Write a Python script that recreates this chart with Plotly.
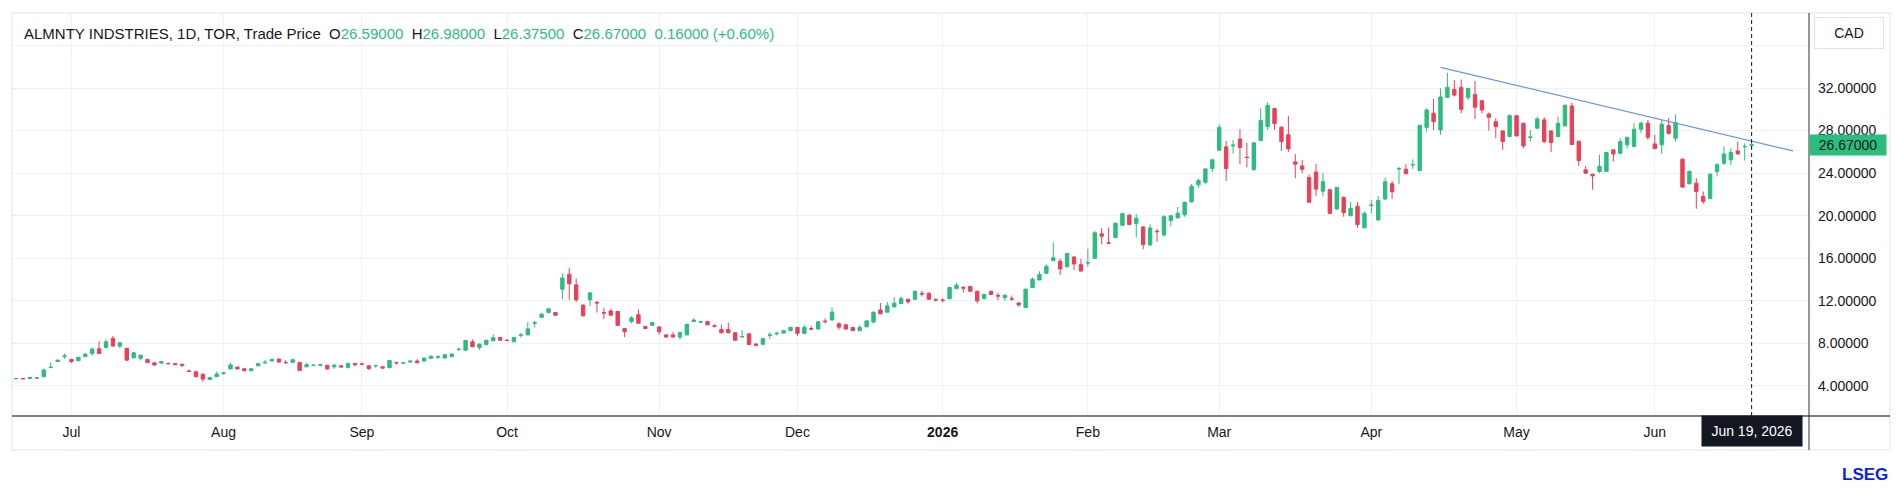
import pandas as pd
import plotly.graph_objects as go

# TSX holidays in the window (no trading, no bar on the axis)
holidays = ["2025-07-01", "2025-08-04", "2025-09-01", "2025-10-13", "2025-12-25",
            "2025-12-26", "2026-01-01", "2026-02-16", "2026-04-03", "2026-05-18",
            "2026-07-01"]

opens = [
    4.68, 4.70, 4.70, 4.72, 4.87, 5.72, 6.30, 6.78, 6.50, 6.37,
    6.75, 7.06, 7.50, 7.62, 8.47, 7.75, 7.53, 6.65, 6.60, 6.50,
    6.18, 6.15, 6.12, 6.10, 6.05, 5.42, 5.34, 5.10, 4.62, 4.87,
    5.18, 5.60, 5.78, 5.62, 5.43, 5.90, 6.18, 6.35, 6.53, 6.22,
    6.22, 6.20, 5.80, 5.94, 5.95, 5.95, 5.80, 5.90, 5.72, 6.12,
    6.07, 5.90, 5.90, 5.80, 5.72, 6.20, 6.15, 6.25, 6.34, 6.34,
    6.60, 6.70, 6.62, 6.75, 7.43, 7.37, 8.15, 7.62, 7.90, 8.25,
    8.56, 8.30, 8.15, 8.76, 8.80, 9.90, 10.45, 10.90, 10.90, 13.10,
    14.50, 13.50, 11.60, 12.10, 11.85, 10.90, 11.05, 11.00, 9.40, 10.05,
    10.70, 9.60, 9.70, 9.55, 8.80, 8.80, 8.60, 8.80, 10.05, 10.00,
    10.05, 9.65, 9.30, 9.30, 9.00, 8.60, 8.90, 7.95, 7.92, 8.75,
    8.90, 8.97, 9.20, 9.50, 8.95, 9.40, 9.35, 10.10, 10.20, 9.85,
    9.75, 9.50, 9.20, 9.56, 10.00, 11.15, 10.94, 11.43, 11.75, 12.15,
    12.15, 12.70, 12.72, 12.10, 12.07, 12.20, 13.15, 13.25, 13.35, 12.90,
    12.20, 12.90, 12.50, 12.30, 12.20, 11.80, 11.38, 13.25, 13.97, 14.60,
    15.80, 15.72, 15.20, 16.12, 15.40, 15.55, 16.00, 18.30, 17.45, 17.95,
    19.10, 20.05, 19.26, 18.95, 17.25, 18.55, 18.20, 19.55, 19.80, 20.10,
    21.30, 22.90, 23.15, 24.43, 26.15, 26.47, 26.55, 27.20, 25.50, 24.34,
    27.07, 28.38, 30.07, 28.32, 27.60, 25.06, 24.68, 23.59, 24.10, 22.30,
    22.45, 20.63, 21.72, 20.00, 20.90, 18.87, 20.95, 19.60, 21.57, 23.00,
    24.40, 24.37, 24.78, 24.25, 28.30, 29.63, 28.06, 31.12, 31.87, 32.06,
    31.12, 31.40, 30.80, 29.56, 28.84, 27.97, 27.44, 29.40, 28.69, 27.35,
    28.22, 29.00, 27.97, 27.44, 28.44, 30.31, 27.00, 24.31, 23.90, 24.16,
    24.16, 26.19, 25.87, 26.66, 26.50, 28.12, 28.69, 26.75, 26.66, 28.47,
    27.28, 25.31, 23.00, 23.06, 21.81, 21.60, 24.16, 24.94, 25.25, 26.09,
    26.48, 26.59,
]
highs = [
    4.72, 4.72, 4.85, 4.78, 5.65, 6.20, 6.48, 7.05, 6.55, 6.72,
    7.05, 7.60, 8.20, 8.40, 8.70, 8.15, 7.58, 7.20, 6.95, 6.55,
    6.22, 6.35, 6.20, 6.13, 6.08, 5.55, 5.38, 5.20, 4.84, 5.35,
    5.32, 6.20, 5.82, 5.65, 5.65, 6.15, 6.45, 6.55, 6.58, 6.42,
    6.52, 6.22, 6.18, 5.98, 6.05, 5.98, 6.00, 5.93, 6.15, 6.15,
    6.20, 5.93, 5.98, 5.83, 6.45, 6.28, 6.25, 6.36, 6.52, 6.65,
    6.85, 6.88, 6.97, 7.05, 7.58, 8.32, 8.37, 7.97, 8.33, 8.85,
    8.60, 8.38, 8.60, 9.00, 10.00, 10.10, 10.85, 11.30, 10.95, 14.60,
    15.10, 14.10, 11.65, 12.80, 12.00, 11.35, 11.25, 11.05, 9.45, 10.55,
    11.20, 9.65, 10.02, 9.60, 8.85, 9.05, 9.05, 9.85, 10.35, 10.12,
    10.10, 9.80, 9.75, 9.95, 9.05, 9.25, 8.95, 8.00, 8.50, 9.05,
    9.10, 9.25, 9.55, 9.55, 9.75, 9.62, 10.10, 10.35, 11.40, 9.98,
    9.80, 9.55, 9.70, 10.15, 10.98, 11.80, 11.90, 12.35, 12.40, 12.20,
    12.95, 12.95, 12.78, 12.25, 12.25, 13.30, 13.70, 13.38, 13.40, 12.95,
    12.65, 12.95, 12.75, 12.60, 12.50, 11.85, 13.15, 14.20, 14.78, 15.43,
    17.50, 15.97, 16.50, 16.20, 15.95, 16.90, 18.55, 18.85, 18.90, 19.35,
    20.25, 20.17, 20.17, 19.00, 19.20, 18.75, 20.05, 20.05, 20.83, 21.30,
    23.00, 23.50, 24.45, 25.34, 28.60, 27.03, 27.10, 28.13, 26.85, 26.90,
    30.10, 30.67, 30.15, 28.40, 29.38, 25.80, 25.25, 23.87, 24.86, 24.04,
    22.50, 22.70, 21.80, 21.30, 21.30, 20.38, 21.47, 21.85, 23.60, 23.26,
    24.60, 24.84, 25.30, 28.55, 30.10, 30.97, 31.97, 33.44, 32.75, 32.80,
    32.00, 32.66, 30.85, 29.70, 29.15, 28.00, 29.53, 29.47, 28.72, 28.06,
    29.30, 29.25, 28.00, 29.31, 30.47, 30.62, 27.05, 24.69, 23.95, 25.72,
    26.00, 26.25, 27.28, 27.40, 28.69, 28.84, 29.00, 27.60, 29.00, 29.16,
    29.53, 25.40, 24.25, 23.53, 22.28, 24.00, 24.94, 26.50, 26.34, 26.97,
    26.81, 26.98,
]
lows = [
    4.66, 4.66, 4.68, 4.70, 4.85, 5.70, 6.26, 6.55, 6.15, 6.35,
    6.72, 6.85, 7.02, 7.55, 7.72, 7.55, 6.40, 6.60, 6.40, 6.18,
    5.95, 6.12, 6.00, 5.97, 5.78, 5.35, 4.85, 4.40, 4.60, 4.85,
    5.05, 5.58, 5.58, 5.40, 5.40, 5.88, 6.05, 6.33, 6.20, 6.05,
    6.20, 5.40, 5.78, 5.92, 5.85, 5.55, 5.62, 5.75, 5.70, 5.88,
    5.95, 5.50, 5.70, 5.65, 5.70, 6.00, 6.05, 6.22, 6.15, 6.32,
    6.58, 6.55, 6.60, 6.72, 7.30, 7.35, 7.65, 7.38, 7.88, 8.22,
    8.28, 8.22, 8.12, 8.55, 8.78, 9.50, 10.40, 10.85, 10.60, 12.15,
    12.10, 11.90, 10.50, 11.50, 10.90, 10.30, 10.60, 9.65, 8.60, 9.90,
    9.85, 9.35, 9.65, 8.80, 8.55, 8.55, 8.35, 8.78, 10.00, 9.92,
    9.70, 9.50, 8.95, 8.95, 8.25, 8.55, 7.85, 7.72, 7.88, 8.42,
    8.75, 8.93, 9.15, 8.70, 8.90, 9.25, 9.30, 9.85, 10.15, 9.28,
    9.30, 9.15, 9.15, 9.52, 9.95, 10.75, 10.90, 11.40, 11.72, 11.75,
    12.10, 12.40, 12.12, 11.95, 11.85, 12.15, 13.10, 12.80, 12.88, 11.75,
    12.15, 12.55, 12.05, 11.98, 12.00, 11.45, 11.35, 13.20, 13.92, 14.55,
    15.75, 14.44, 15.15, 14.90, 14.75, 15.20, 15.95, 17.30, 17.40, 17.90,
    19.05, 19.12, 17.95, 16.85, 17.20, 17.55, 18.05, 19.00, 19.75, 19.90,
    21.25, 22.60, 23.00, 24.10, 26.10, 23.27, 25.85, 24.84, 24.55, 24.20,
    27.00, 28.07, 28.07, 26.10, 26.00, 23.52, 23.99, 21.20, 21.88, 21.80,
    20.15, 20.55, 19.90, 19.95, 18.87, 18.80, 20.22, 19.55, 21.50, 21.57,
    22.95, 23.90, 24.40, 24.20, 27.90, 28.06, 27.60, 31.05, 31.20, 29.63,
    30.87, 29.10, 29.63, 28.00, 27.28, 26.19, 27.40, 27.45, 26.34, 26.97,
    28.15, 26.81, 25.97, 27.40, 28.40, 26.65, 24.69, 23.94, 22.44, 24.00,
    24.10, 25.09, 25.80, 26.34, 26.45, 27.75, 27.12, 26.25, 25.81, 27.60,
    26.97, 22.65, 22.95, 20.66, 21.12, 21.55, 23.69, 24.78, 24.78, 25.75,
    25.19, 26.375,
]
closes = [
    4.70, 4.68, 4.80, 4.76, 5.50, 5.76, 6.43, 6.82, 6.30, 6.70,
    7.00, 7.47, 7.06, 8.15, 7.75, 8.06, 6.43, 7.12, 6.90, 6.20,
    5.97, 6.30, 6.10, 6.00, 5.95, 5.37, 4.87, 4.65, 4.80, 5.12,
    5.22, 5.97, 5.60, 5.43, 5.62, 6.10, 6.22, 6.50, 6.25, 6.20,
    6.47, 5.45, 6.00, 5.96, 6.00, 5.60, 5.97, 5.78, 6.12, 6.00,
    6.05, 5.65, 5.92, 5.68, 6.40, 6.18, 6.17, 6.34, 6.18, 6.62,
    6.80, 6.75, 6.94, 7.00, 7.45, 8.28, 7.68, 7.94, 8.30, 8.53,
    8.30, 8.28, 8.56, 8.80, 9.37, 9.95, 10.75, 11.25, 10.65, 14.15,
    13.60, 12.10, 10.60, 12.75, 11.80, 10.85, 10.65, 9.70, 9.10, 10.40,
    9.90, 9.40, 9.97, 9.10, 8.60, 8.60, 9.03, 9.80, 10.20, 10.05,
    9.75, 9.60, 9.00, 9.00, 8.30, 8.65, 7.90, 7.82, 8.45, 8.80,
    8.95, 9.20, 9.50, 8.95, 9.50, 9.35, 10.03, 10.05, 10.94, 9.53,
    9.35, 9.20, 9.50, 10.12, 10.94, 10.78, 11.53, 11.78, 12.20, 11.90,
    12.90, 12.65, 12.15, 12.08, 12.05, 13.25, 13.47, 13.20, 12.90, 12.00,
    12.60, 12.60, 12.45, 12.53, 12.17, 11.62, 13.10, 14.03, 14.47, 15.25,
    16.06, 15.00, 16.45, 15.47, 14.80, 15.60, 18.40, 18.07, 17.42, 19.30,
    20.20, 19.17, 19.76, 17.30, 18.85, 18.50, 19.90, 20.00, 20.23, 21.27,
    22.77, 23.30, 24.40, 25.25, 28.30, 24.43, 26.63, 26.40, 25.47, 26.85,
    28.95, 30.36, 28.66, 26.97, 26.28, 24.84, 24.37, 21.27, 22.50, 23.20,
    20.22, 22.66, 20.28, 20.70, 19.18, 20.22, 21.00, 21.44, 23.20, 22.26,
    24.42, 23.94, 24.80, 28.50, 29.94, 28.84, 31.16, 32.06, 31.34, 30.00,
    31.97, 30.19, 29.94, 29.25, 28.37, 26.97, 29.40, 27.50, 26.56, 27.40,
    29.10, 26.97, 26.88, 28.69, 30.37, 26.69, 25.19, 24.00, 23.75, 24.62,
    25.94, 25.81, 26.97, 27.37, 28.12, 28.69, 27.37, 26.31, 28.60, 27.75,
    28.75, 22.69, 24.16, 22.28, 21.34, 23.90, 24.78, 25.81, 25.94, 25.81,
    26.51, 26.67,
]

month_labels = ["Jul", "Aug", "Sep", "Oct", "Nov", "Dec", "<b>2026</b>",
                "Feb", "Mar", "Apr", "May", "Jun"]
price_ticks = [4, 8, 12, 16, 20, 24, 28, 32, 36]

# user-drawn trend line (date, price)
trend_dates = ["2026-04-16", "2026-06-29"]
trend_values = [33.94, 26.09]

GREEN = "#2bbd7e"
RED = "#e84057"
GRID = "#f0f1f4"
TEXT = "#131722"

# trading days, with a few empty future sessions on the right
days = pd.bdate_range("2025-06-19", "2026-07-06")
dates = [d.strftime("%Y-%m-%d") for d in days if d.strftime("%Y-%m-%d") not in holidays]
data_dates = dates[:len(closes)]
last_date = data_dates[-1]

month_ticks = []
seen = set()
for d in data_dates:
    m = d[:7]
    if m not in seen:
        seen.add(m)
        month_ticks.append(d)
month_ticks = month_ticks[1:]  # first label is July

fig = go.Figure()
fig.add_trace(go.Candlestick(
    x=data_dates, open=opens, high=highs, low=lows, close=closes,
    increasing=dict(line=dict(color=GREEN, width=1), fillcolor=GREEN),
    decreasing=dict(line=dict(color=RED, width=1), fillcolor=RED),
    whiskerwidth=0, name="ALMNTY INDSTRIES", showlegend=False,
))
fig.add_trace(go.Scatter(
    x=trend_dates, y=trend_values, mode="lines",
    line=dict(color="#6d93f2", width=1.2), hoverinfo="skip", showlegend=False,
))

# plot box: 12..1809 px wide, 13..416 px high
W, H = 1903, 488
L, R, T, B = 12, 94, 13, 72
pw, ph = W - L - R, H - T - B


def px(x):
    return (x - L) / pw


def py(y):
    return (H - B - y) / ph


fig.update_layout(
    width=W, height=H,
    margin=dict(l=L, r=R, t=T, b=B),
    paper_bgcolor="white", plot_bgcolor="white",
    font=dict(family="Liberation Sans, Arial, sans-serif", size=14, color=TEXT),
    showlegend=False,
    hovermode="x",
)
fig.update_xaxes(
    type="category", categoryorder="array", categoryarray=dates,
    range=[-0.6, 259.3],
    tickmode="array", tickvals=month_ticks, ticktext=month_labels,
    showgrid=True, gridcolor=GRID, gridwidth=1,
    ticks="", showline=False, zeroline=False,
    rangeslider=dict(visible=False),
    ticklabelstandoff=6,
)
fig.update_yaxes(
    side="right", range=[1.18, 39.05],
    tickmode="array", tickvals=price_ticks,
    ticktext=[f"{v:.5f}" if v < 36 else "" for v in price_ticks],
    showgrid=True, gridcolor=GRID, gridwidth=1,
    ticks="", showline=False, zeroline=False,
    ticklabelstandoff=8,
)

fig.add_shape(type="rect", xref="paper", yref="paper",
              x0=0, x1=px(1890), y0=py(450), y1=1,
              line=dict(color="#e0e3eb", width=1))
fig.add_shape(type="line", xref="paper", yref="paper",
              x0=0, x1=px(1890), y0=0, y1=0,
              line=dict(color="#7b7e86", width=2))
fig.add_shape(type="line", xref="paper", yref="paper",
              x0=1, x1=1, y0=py(450), y1=1,
              line=dict(color="#2a2e39", width=1))
fig.add_shape(type="line", xref="x", yref="paper",
              x0=last_date, x1=last_date, y0=0, y1=1,
              line=dict(color=TEXT, width=1, dash="4px,3px"))

g = f'<span style="color:{GREEN}">'
change = closes[-1] - closes[-2]
pct = change / closes[-2] * 100
header = (
    "ALMNTY INDSTRIES, 1D, TOR, Trade Price\u00a0\u00a0"
    f"O{g}{opens[-1]:.5f}</span>\u00a0\u00a0"
    f"H{g}{highs[-1]:.5f}</span>\u00a0\u00a0"
    f"L{g}{lows[-1]:.5f}</span>\u00a0\u00a0"
    f"C{g}{closes[-1]:.5f}</span>\u00a0\u00a0"
    f"{g}{change:.5f} ({pct:+.2f}%)</span>"
)
fig.add_annotation(text=header, xref="paper", yref="paper", x=px(22), y=py(33),
                   xanchor="left", yanchor="middle", showarrow=False,
                   font=dict(size=15, color=TEXT))
fig.add_annotation(text="CAD", xref="paper", yref="paper", x=px(1849), y=py(33),
                   xanchor="center", yanchor="middle", showarrow=False,
                   width=56, height=18, borderpad=6, bordercolor="#e0e3eb",
                   borderwidth=1, bgcolor="white", font=dict(size=14, color=TEXT))
fig.add_annotation(text=f"{closes[-1]:.5f}", xref="paper", yref="y",
                   x=px(1848), y=closes[-1], xanchor="center", yanchor="middle",
                   showarrow=False, width=72, height=16, borderpad=2,
                   bgcolor=GREEN, font=dict(size=14, color=TEXT))
fig.add_annotation(text=pd.Timestamp(last_date).strftime("%b %d, %Y").replace(" 0", " "),
                   xref="x", yref="paper", x=last_date, y=py(431),
                   xanchor="center", yanchor="middle", showarrow=False,
                   width=92, height=22, borderpad=4, bgcolor=TEXT,
                   font=dict(size=14, color="white"))
fig.add_annotation(text="<b>LSEG</b>", xref="paper", yref="paper",
                   x=px(1890), y=py(474), xanchor="right", yanchor="middle",
                   showarrow=False, font=dict(size=17, color="#0a1ef0"))

# drop the browser's default body margin so the figure sits at the page origin
fig.write_html("out.html", config={"displayModeBar": False},
               post_script="document.body.style.margin='0';")
